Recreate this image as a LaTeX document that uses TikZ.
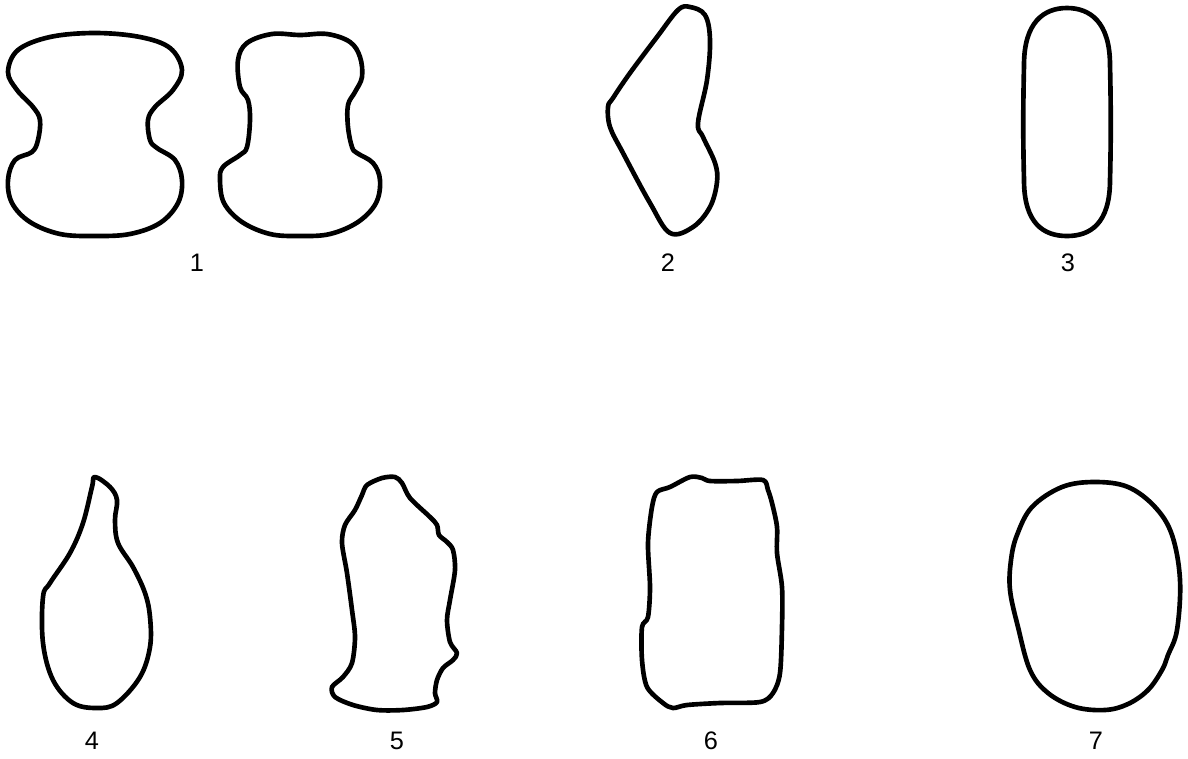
\documentclass[tikz,border=0pt]{standalone}
\usepackage{fontspec}
\setmainfont{Liberation Sans}
\usepackage{tikz}

\tikzset{
  outline/.style={draw=black, line width=3.3pt, line join=round},
  shapelabel/.style={font=\fontsize{18}{20}\selectfont, inner sep=0pt}
}

\begin{document}
\begin{tikzpicture}[x=0.025cm, y=-0.025cm]
        \useasboundingbox (0,0) rectangle (1188,758);

        % pair of waisted outlines
        \draw[outline] plot[smooth cycle, tension=0.6] coordinates {
            (95,33) (140,37) (170,48) (182,70) (173,90) (155,107) (148,120)
            (150,140) (157,148) (175,160) (182,180) (178,203) (160,223)
            (130,234) (95,236) (60,234) (30,222) (12,203) (8,180) (15,160)
            (32,152) (38,140) (40,120) (33,107) (17,90) (8,72) (18,50)
            (50,37)};
        \draw[outline] plot[smooth cycle, tension=0.6] coordinates {
            (300,35) (327,34) (350,42) (360,57) (362,77) (355,92) (348,105)
            (348,127) (352,147) (357,153) (373,163) (380,180) (376,203)
            (358,222) (330,234) (300,236) (270,234) (242,222) (224,203)
            (220,180) (223,167) (240,155) (247,147) (250,120) (248,100)
            (240,87) (238,60) (247,43) (272,34)};

        % bent outline
        \draw[outline] plot[smooth cycle, tension=0.6] coordinates {
            (690,7) (705,15) (710,40) (707,80) (698,123) (703,137) (715,163)
            (717,182) (710,207) (693,227) (670,233) (650,203) (623,153)
            (610,127) (608,107) (613,98) (630,73) (657,37) (678,10)};

        % long rounded outline
        \draw[outline] (1024,65) .. controls (1024,22) and (1044,8) .. (1067,8)
            .. controls (1090,8) and (1110,22) .. (1110,65)
            .. controls (1111,110) and (1111,140) .. (1110,180)
            .. controls (1110,224) and (1090,236) .. (1067,236)
            .. controls (1044,236) and (1024,224) .. (1024,180)
            .. controls (1023,140) and (1023,110) .. (1024,65) -- cycle;

        % drop outline
        \draw[outline] plot[smooth cycle, tension=0.6] coordinates {
            (95,477) (110,487) (117,500) (115,520) (118,543) (133,567)
            (145,593) (150,617) (150,647) (140,677) (117,703) (97,708)
            (73,703) (53,680) (43,643) (43,597) (50,583) (70,553) (83,523)
            (92,487)};

        % ragged outline
        \draw[outline] plot[smooth cycle, tension=0.5] coordinates {
            (367,485) (382,478) (395,477) (402,483) (410,498) (430,517)
            (437,525) (439,535) (447,542) (453,550) (455,570) (450,600)
            (447,620) (450,642) (457,653) (453,660) (443,668) (437,680)
            (435,693) (437,702) (427,707) (403,710) (377,710) (353,705)
            (335,697) (332,687) (343,677) (352,663) (355,637) (352,610)
            (347,573) (342,543) (345,525) (355,510) (362,495)};

        % nearly square outline with a flat top
        \draw[outline] plot[smooth cycle, tension=0.5] coordinates {
            (710,481) (737,481) (763,480) (768,490) (772,503) (777,527)
            (777,553) (782,587) (782,627) (780,673) (773,693) (760,702)
            (720,703) (687,705) (673,708) (663,703) (647,687) (642,660)
            (642,627) (648,617) (650,587) (648,543) (652,507) (657,492)
            (670,487) (690,477) (702,478)};

        % oval outline
        \draw[outline] plot[smooth cycle, tension=0.6] coordinates {
            (1095,482) (1128,487) (1155,507) (1172,535) (1180,580)
            (1177,630) (1168,655) (1162,670) (1148,690) (1128,704)
            (1105,710) (1075,707) (1048,693) (1030,670) (1018,627)
            (1010,590) (1011,560) (1017,535) (1032,507) (1062,487)};

        % numbers
        \node[shapelabel] (n1) at (197,263) {1};
        \node[shapelabel] (n2) at (668,263) {2};
        \node[shapelabel] (n3) at (1068,263) {3};
        \node[shapelabel] (n4) at (92,741) {4};
        \node[shapelabel] (n5) at (397,741) {5};
        \node[shapelabel] (n6) at (711,741) {6};
        \node[shapelabel] (n7) at (1096,741) {7};
\end{tikzpicture}
\end{document}
